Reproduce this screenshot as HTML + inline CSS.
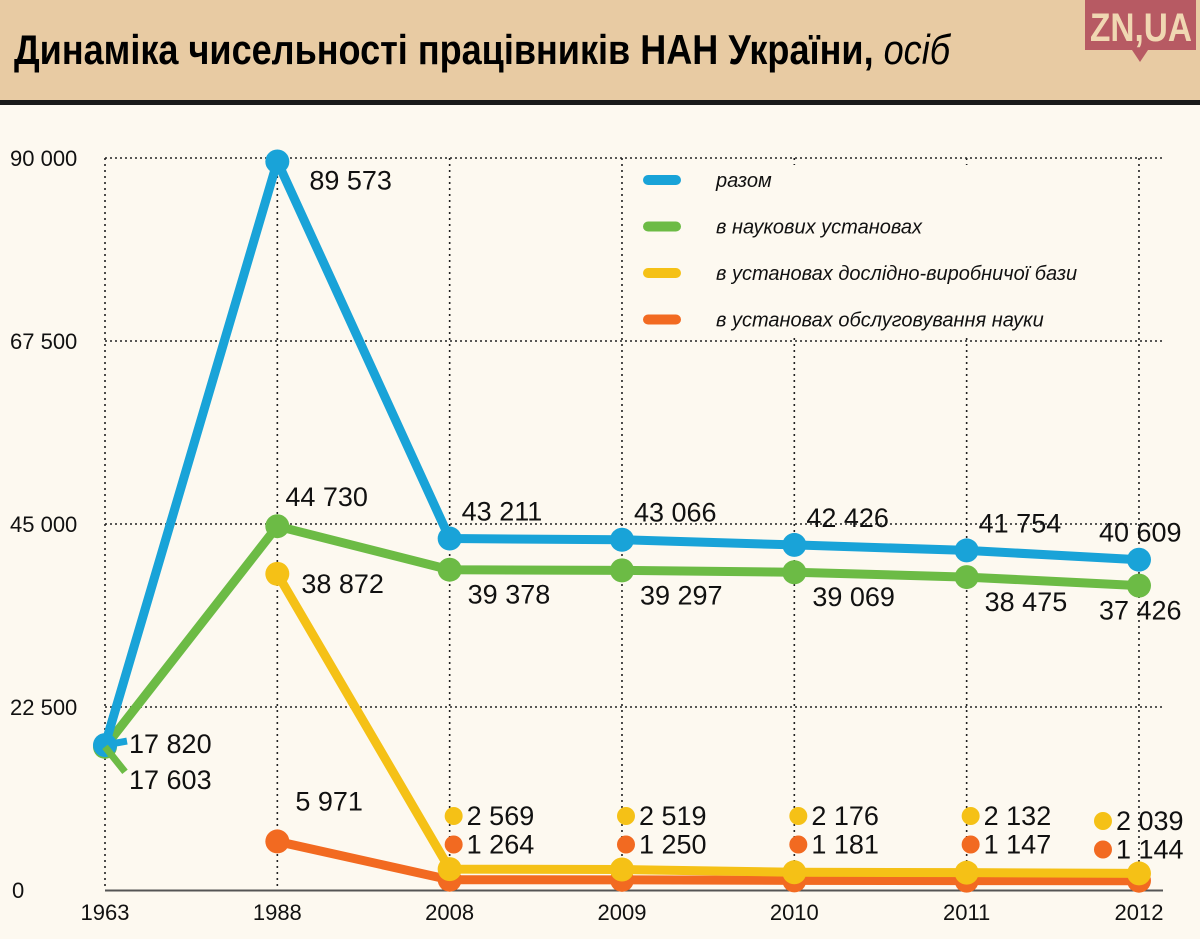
<!DOCTYPE html>
<html><head><meta charset="utf-8">
<style>
body{margin:0;width:1200px;height:939px;background:#fdf9f0;overflow:hidden}
svg{display:block}
text{font-family:"Liberation Sans",sans-serif}
</style></head>
<body>
<svg width="1200" height="939" viewBox="0 0 1200 939">
<rect x="0" y="0" width="1200" height="939" fill="#fdf9f0"/>
<rect x="0" y="0" width="1200" height="100" fill="#e8cba3"/>
<rect x="0" y="100" width="1200" height="5" fill="#1a1a1a"/>
<text x="14" y="64" font-weight="bold" font-size="42" fill="#000" textLength="936" lengthAdjust="spacingAndGlyphs">Динаміка чисельності працівників НАН України, <tspan font-weight="normal" font-style="italic">осіб</tspan></text>
<g>
<rect x="1085" y="0" width="111" height="50" fill="#b75a63"/>
<polygon points="1132,50 1148,50 1140,62" fill="#b75a63"/>
<text x="1090" y="41" font-weight="bold" font-size="40" fill="#f0d7b2" textLength="102" lengthAdjust="spacingAndGlyphs">ZN,UA</text>
</g>
<g id="grid"></g>
<g id="legend"></g>
<g id="series"></g>
<g id="labels"></g>
</svg>
<script>
const years=["1963","1988","2008","2009","2010","2011","2012"];
const total=[17820,89573,43211,43066,42426,41754,40609];
const science=[17603,44730,39378,39297,39069,38475,37426];
const production=[null,38872,2569,2519,2176,2132,2039];
const service=[null,5971,1264,1250,1181,1147,1144];
const yTicks=[0,22500,45000,67500,90000];
const yTickLabels=["0","22 500","45 000","67 500","90 000"];
const legendLabels=["разом","в наукових установах","в установах дослідно-виробничої бази","в установах обслуговування науки"];
const colors=["#19a3d8","#6cbb45","#f5c116","#f26a21"];

const NS="http://www.w3.org/2000/svg";
const X=i=>105+i*172.33;
const Y=v=>890-v*(732/90000);
function mk(tag,attrs,parent){const e=document.createElementNS(NS,tag);for(const k in attrs)e.setAttribute(k,attrs[k]);parent.appendChild(e);return e;}
const fmt=v=>String(v).replace(/\B(?=(\d{3})+(?!\d))/g," ");
const grid=document.getElementById('grid'),leg=document.getElementById('legend'),ser=document.getElementById('series'),lab=document.getElementById('labels');

yTicks.forEach((t,k)=>{
  if(t>0){const l=mk('line',{x1:105,x2:1163,y1:Y(t),y2:Y(t),stroke:'#222','stroke-width':1.6,'stroke-dasharray':'2 3'},grid);
  
  }
  const tx=mk('text',{x:k===0?12:10,y:Y(t)+8,'font-size':22,fill:'#111'},grid);
  tx.textContent=yTickLabels[k];
  
  
});
years.forEach((y,i)=>{
  const l=mk('line',{x1:X(i),x2:X(i),y1:Y(90000),y2:890,stroke:'#222','stroke-width':1.6,'stroke-dasharray':'2 4'},grid);
  
  
  const t=mk('text',{x:X(i),y:920,'text-anchor':'middle','font-size':22,fill:'#111'},grid);
  t.textContent=y;
  
  
});
const ax=mk('line',{x1:105,x2:1163,y1:890.5,y2:890.5,stroke:'#555','stroke-width':2},grid);



// legend
mk('rect',{x:630,y:165,width:345,height:170,fill:'#fdf9f0'},leg);
legendLabels.forEach((s,k)=>{
  const yy=180+k*46.5;
  const g=mk('g',{},leg);
  
  
  mk('line',{x1:648,x2:676,y1:yy,y2:yy,stroke:colors[k],'stroke-width':10,'stroke-linecap':'round'},g);
  const t=mk('text',{x:716,y:yy+7,'font-size':20,'font-style':'italic',fill:'#111'},g);
  t.textContent=s;
});

const all=[total,science,production,service];
const names=['total','science','production','service'];
[3,2,1,0].forEach(k=>{
  const d=all[k];let pts=[];
  d.forEach((v,i)=>{if(v!=null)pts.push(X(i)+','+Y(v));});
  const p=mk('polyline',{points:pts.join(' '),fill:'none',stroke:colors[k],'stroke-width':9,'stroke-linejoin':'round'},ser);
  
  
  d.forEach((v,i)=>{if(v==null)return;
    const c=mk('circle',{cx:X(i),cy:Y(v),r:12,fill:colors[k]},ser);
    
    
  });
});
mk('line',{x1:X(0),y1:Y(total[0]),x2:X(0)+22,y2:Y(total[0])-4,stroke:colors[0],'stroke-width':7},ser);
mk('line',{x1:X(0),y1:Y(science[0]),x2:X(0)+20,y2:Y(science[0])+25,stroke:colors[1],'stroke-width':7},ser);

function label(txt,x,y,name){const t=mk('text',{x:x,y:y,'font-size':27,fill:'#111'},lab);t.textContent=txt;
  
  }
total.forEach((v,i)=>{
  let x,y;
  if(i===0){x=X(i)+24;y=Y(v)+8;}else if(i===1){x=X(i)+32;y=Y(v)+28;}else{x=X(i)+(i===6?-40:12);y=Y(v)-18;}
  label(fmt(v),x,y,'label-total-'+years[i]);
});
science.forEach((v,i)=>{
  let x,y;
  if(i===0){x=X(i)+24;y=Y(v)+42;}else if(i===1){x=X(i)+8;y=Y(v)-20;}else{x=X(i)+(i===6?-40:18);y=Y(v)+34;}
  label(fmt(v),x,y,'label-science-'+years[i]);
});
label(fmt(production[1]),X(1)+24,Y(production[1])+19,'label-production-1988');
label(fmt(service[1]),X(1)+18,Y(service[1])-31,'label-service-1988');
[production,service].forEach((d,k)=>{
  d.forEach((v,i)=>{if(i<2||v==null)return;
    const yy=816+k*28.5+(i===6?5:0);
    const c=mk('circle',{cx:X(i)+4+(i===6?-40:0),cy:yy,r:9,fill:colors[2+k]},lab);
    
    
    label(fmt(v),X(i)+17+(i===6?-40:0),yy+9,'label-'+names[2+k]+'-'+years[i]);
  });
});
</script>
</body></html>
